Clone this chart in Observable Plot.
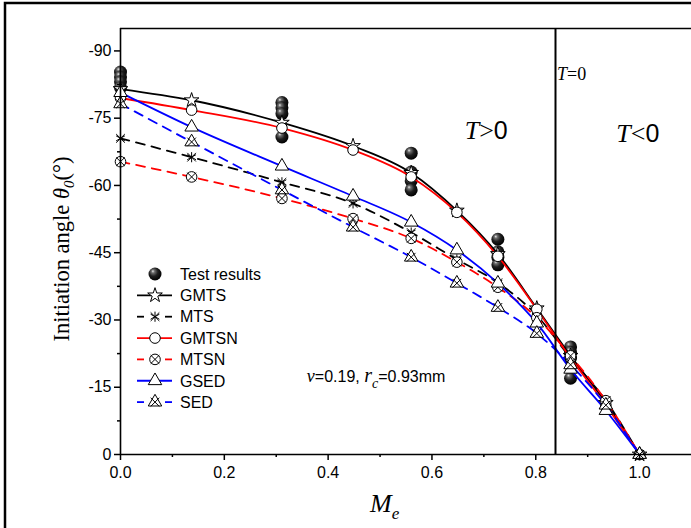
<!DOCTYPE html>
<html>
<head>
<meta charset="utf-8">
<script src="https://cdn.jsdelivr.net/npm/d3@7"></script>
<script src="https://cdn.jsdelivr.net/npm/@observablehq/plot@0.6"></script>
<style>
  html, body { margin: 0; padding: 0; background: #fff; }
  #wrap { position: relative; width: 691px; height: 528px; overflow: hidden; }
</style>
</head>
<body>
<svg width="0" height="0" style="position:absolute">
  <defs>
    <radialGradient id="sphere" cx="0.42" cy="0.38" r="0.62" fx="0.33" fy="0.28">
      <stop offset="0" stop-color="#e8e8e8"/>
      <stop offset="0.2" stop-color="#6e6e6e"/>
      <stop offset="0.55" stop-color="#1e1e1e"/>
      <stop offset="1" stop-color="#000"/>
    </radialGradient>
  </defs>
</svg>
<div id="wrap"></div>
<script>
// ---------- data ----------
const Me = [0, 0.137, 0.311, 0.448, 0.56, 0.648, 0.727, 0.802, 0.867, 0.935, 1.0];
const GMTS  = [-81.5, -79.0, -74.0, -68.8, -62.8, -54.4, -44.7, -32.6, -22.0, -11.5, 0];
const MTS   = [-70.5, -66.3, -60.7, -56.0, -49.5, -43.5, -38.3, -31.0, -21.5, -12.0, 0];
const GMTSN = [-79.5, -76.8, -72.8, -67.9, -61.9, -54.0, -44.2, -32.4, -21.5, -11.0, 0];
const MTSN  = [-65.3, -61.9, -57.1, -52.6, -48.2, -42.9, -37.3, -30.5, -22.0, -12.0, 0];
const GSED  = [-80.7, -73.0, -64.3, -57.6, -51.8, -45.6, -38.2, -29.3, -19.0, -9.8, 0];
const SED   = [-78.2, -69.7, -59.0, -50.7, -44.0, -38.2, -32.8, -27.0, -20.0, -11.0, 0];

const testX = [0, 0, 0, 0, 0.311, 0.311, 0.311, 0.311, 0.56, 0.56, 0.56, 0.56, 0.727, 0.727, 0.727, 0.727, 0.867, 0.867, 0.867, 0.867];
const testY = [-85.3, -84.2, -83.1, -81.8, -78.5, -77.3, -76.0, -70.8, -67.2, -63.0, -61.0, -59.0, -48.0, -45.2, -44.0, -42.3, -24.0, -22.8, -21.5, -17.0];

const seriesNames  = ["GMTS", "MTS", "GMTSN", "MTSN", "GSED", "SED"];
const seriesValues = [GMTS, MTS, GMTSN, MTSN, GSED, SED];
const seriesColors = ["#000000", "#000000", "#ff0000", "#ff0000", "#0000ff", "#0000ff"];
const seriesDashed = [false, true, false, true, false, true];
const seriesSymbols = [["star"], ["asterisk", "times"], ["circle"], ["circle", "times"], ["triangle"], ["triangle", "times"]];
const legendLabels = ["Test results", ...seriesNames];

const xTicks = [0, 0.2, 0.4, 0.6, 0.8, 1.0];
const xMinor = [0.1, 0.3, 0.5, 0.7, 0.9];
const yTicks = [0, -15, -30, -45, -60, -75, -90];
const yMinor = [-7.5, -22.5, -37.5, -52.5, -67.5, -82.5];
const xDomain = [0, 1.1];
const yDomain = [0, -95];
const tZero = 0.838;   // T = 0 boundary

// ---------- tables ----------
const curves = [];
seriesNames.forEach((name, i) => Me.forEach((m, j) => curves.push({name, x: m, y: seriesValues[i][j]})));
const tests = testX.map((x, i) => ({x, y: testY[i]}));

const SANS = "Arial, 'Liberation Sans', sans-serif";
const SERIF = "'Times New Roman', 'Liberation Serif', serif";
const symR = {star: 4.6, asterisk: 4.8, times: 4.0, circle: 5.3, triangle: 5.0};

const marks = [];
marks.push(Plot.dot(tests, {x: "x", y: "y", r: 6.5, fill: "url(#sphere)", stroke: "none"}));
seriesNames.forEach((name, i) => {
  marks.push(Plot.line(curves.filter(d => d.name === name), {
    x: "x", y: "y", stroke: seriesColors[i], strokeWidth: 1.8,
    strokeDasharray: seriesDashed[i] ? "9,7" : null, curve: "monotone-x"
  }));
});
seriesNames.forEach((name, i) => {
  const data = curves.filter(d => d.name === name);
  seriesSymbols[i].forEach((sym, k) => {
    marks.push(Plot.dot(data, {
      x: "x", y: "y", symbol: sym, r: symR[sym],
      fill: (k === 0 && sym !== "asterisk") ? "white" : "none",
      stroke: "black", strokeWidth: 1
    }));
  });
});
marks.push(Plot.ruleX([tZero], {stroke: "black", strokeWidth: 2}));
marks.push(Plot.axisX({ticks: xTicks, tickSize: 6, tickPadding: 6, tickFormat: d3.format(".1f"), label: null, strokeWidth: 1.5, fontSize: 16}));
marks.push(Plot.axisX({ticks: xMinor, tickSize: 3, tickFormat: () => "", label: null, strokeWidth: 1.5}));
marks.push(Plot.axisY({ticks: yTicks, tickSize: 6, tickPadding: 3, tickFormat: d => String(d), label: null, strokeWidth: 1.5, fontSize: 16}));
marks.push(Plot.axisY({ticks: yMinor, tickSize: 3, tickFormat: () => "", label: null, strokeWidth: 1.5}));
marks.push(Plot.ruleX([xDomain[0]], {stroke: "black", strokeWidth: 1.6}));
marks.push(Plot.ruleY([yDomain[0]], {stroke: "black", strokeWidth: 1.6}));
marks.push(Plot.ruleY([yDomain[1]], {stroke: "black", strokeWidth: 1.6}));

const chart = Plot.plot({
  width: 691, height: 528,
  marginLeft: 120, marginRight: 0, marginTop: 28, marginBottom: 74,
  x: {domain: xDomain},
  y: {domain: yDomain},
  style: {fontFamily: SANS, fontSize: "16px", color: "black", background: "white"},
  marks
});
document.getElementById("wrap").appendChild(chart);

// ---------- decorations ----------
const svg = d3.select(chart);
const sx = chart.scale("x"), sy = chart.scale("y");

// outer frame
svg.append("path").attr("d", "M5,530V3H695").attr("fill", "none").attr("stroke", "black").attr("stroke-width", 2.5);

// annotations
function addText(x, y, parts) {
  const t = svg.append("text").attr("x", x).attr("y", y).attr("text-anchor", "start").attr("fill", "black");
  parts.forEach(p => {
    const ts = t.append("tspan").text(p.t).attr("font-family", p.serif ? SERIF : SANS).attr("font-size", p.s);
    if (p.i) ts.attr("font-style", "italic");
    if (p.dy) ts.attr("dy", p.dy);
  });
  return t;
}
addText(sx.apply(0.842), sy.apply(-83.4), [{t: "T", serif: 1, i: 1, s: 18}, {t: "=0", serif: 1, s: 18}]);
addText(sx.apply(0.664), sy.apply(-70.2), [{t: "T", serif: 1, i: 1, s: 26}, {t: ">", serif: 1, s: 26}, {t: "0", s: 25}]);
addText(sx.apply(0.956), sy.apply(-69.5), [{t: "T", serif: 1, i: 1, s: 26}, {t: "<", serif: 1, s: 26}, {t: "0", s: 25}]);
addText(sx.apply(0.36), sy.apply(-16.0), [
  {t: "ν", serif: 1, i: 1, s: 18}, {t: "=0.19, ", s: 16}, {t: "r", serif: 1, i: 1, s: 20},
  {t: "c", serif: 1, i: 1, s: 14, dy: 6}, {t: "=0.93mm", s: 16, dy: -6}
]);

// axis titles
const yl = svg.append("text").attr("transform", "translate(69,249) rotate(-90)").attr("text-anchor", "middle").attr("fill", "black")
  .attr("font-family", SERIF).attr("font-size", 22.5);
yl.append("tspan").text("Initiation angle ");
yl.append("tspan").text("θ").attr("font-style", "italic");
yl.append("tspan").text("0").attr("font-style", "italic").attr("font-size", 15).attr("dy", 5);
yl.append("tspan").text("(°)").attr("dy", -5);

const xl = svg.append("text").attr("x", 370).attr("y", 512).attr("text-anchor", "start").attr("fill", "black")
  .attr("font-family", SERIF).attr("font-style", "italic").attr("font-size", 26);
xl.append("tspan").text("M");
xl.append("tspan").text("e").attr("font-size", 17).attr("dy", 7);

// legend
const lg = svg.append("g").attr("text-anchor", "start");
const rowY0 = 274, rowStep = 21.35, symX = 155, textX = 180;
const symTypes = {star: d3.symbolStar, asterisk: d3.symbolAsterisk, times: d3.symbolTimes, circle: d3.symbolCircle, triangle: d3.symbolTriangle};
legendLabels.forEach((label, i) => {
  const y = rowY0 + i * rowStep;
  if (i === 0) {
    lg.append("circle").attr("cx", symX).attr("cy", y).attr("r", 6.5).attr("fill", "url(#sphere)");
  } else {
    const k = i - 1;
    const col = seriesColors[k];
    if (seriesDashed[k]) {
      lg.append("line").attr("x1", 137).attr("x2", 144).attr("y1", y).attr("y2", y).attr("stroke", col).attr("stroke-width", 1.8);
      lg.append("line").attr("x1", 165).attr("x2", 172).attr("y1", y).attr("y2", y).attr("stroke", col).attr("stroke-width", 1.8);
    } else {
      lg.append("line").attr("x1", 137).attr("x2", 172).attr("y1", y).attr("y2", y).attr("stroke", col).attr("stroke-width", 1.8);
    }
    seriesSymbols[k].forEach((sym, j) => {
      const r = symR[sym];
      lg.append("path").attr("transform", `translate(${symX},${y})`).attr("d", d3.symbol(symTypes[sym], r * r * Math.PI)())
        .attr("fill", (j === 0 && sym !== "asterisk") ? "white" : "none").attr("stroke", "black").attr("stroke-width", 1);
    });
  }
  lg.append("text").attr("x", textX).attr("y", y).attr("dy", "0.36em").attr("text-anchor", "start")
    .attr("font-family", SANS).attr("font-size", 16).attr("fill", "black").text(label);
});
</script>
</body>
</html>
